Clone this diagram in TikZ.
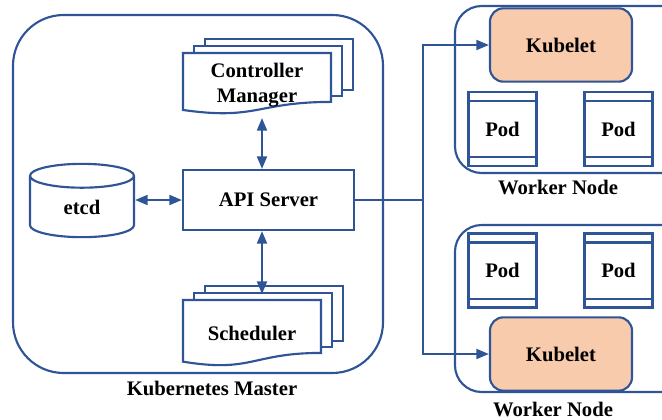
\documentclass[tikz,border=0pt]{standalone}
\usepackage{fontspec}
\setmainfont{Liberation Serif}
\usetikzlibrary{arrows.meta,shapes.geometric}

\definecolor{kblue}{RGB}{47,85,151}
\definecolor{kpeach}{RGB}{248,203,173}

\tikzset{
  blueline/.style={draw=kblue, line width=1.6pt},
  lbl/.style={font=\fontsize{15.5}{18.75}\selectfont\bfseries, inner sep=0.75pt, align=center},
  boxnode/.style={blueline, lbl, fill=white, inner sep=0pt},
  kubelet/.style={boxnode, fill=kpeach, rounded corners=10pt, minimum width=106.5pt, minimum height=55pt},
  pod/.style={boxnode, minimum width=51pt, minimum height=55.5pt},
  store/.style={boxnode, cylinder, shape border rotate=90, aspect=0.65, minimum width=78pt, minimum height=55pt},
  >={Triangle[length=9.5pt,width=7.5pt]},
}

% stack of documents: left, top, right, height of the front sheet
\newcommand{\docpile}[4]{%
  \foreach \d in {2,1}
    \draw[blueline, fill=white] (#1+11*\d, #2-7*\d) rectangle (#3+11*\d, #2+0.802*#4-6*\d);
  \draw[blueline, fill=white] (#1,#2) -- (#3,#2) -- (#3,#2+0.802*#4)
    .. controls ({(#1+#3)/2},#2+0.802*#4) and ({(#1+#3)/2},#2+1.107*#4) .. (#1,#2+0.934*#4) -- cycle;
}

\begin{document}
\begin{tikzpicture}[x=0.75pt,y=0.75pt,yscale=-1,xscale=1]
  \clip (0,0) rectangle (662,419);

  %Shape: master frame
  \draw[blueline, rounded corners=38pt] (13,15) rectangle (383,373);
  %Shape: worker frames
  \draw[blueline, rounded corners=20pt] (455,6) rectangle (700,173);
  \draw[blueline, rounded corners=20pt] (455,225) rectangle (700,392);

  %Shape: document stacks
  \docpile{183}{53}{331}{61}
  \docpile{183}{300}{321}{66}

  % Text Node
  \node[lbl] (cm) at (257,85.5) {Controller\\Manager};
  \node[lbl] (sched) at (252,333) {Scheduler};
  \node[boxnode, minimum width=128.25pt, minimum height=45pt] (api) at (268.5,200) {API Server};
  \node[store] (etcd) at (82,207) {etcd};

  \node[kubelet] (kub1) at (561,45) {Kubelet};
  \node[kubelet] (kub2) at (561,354) {Kubelet};
  \node[pod] (pod1) at (502.5,129) {Pod};
  \node[pod] (pod2) at (618.5,129) {Pod};
  \node[pod] (pod3) at (502.5,270.5) {Pod};
  \node[pod] (pod4) at (618.5,270.5) {Pod};
  \foreach \p in {pod1,pod2,pod3,pod4} {
    \draw[blueline] ([yshift=7.5pt]\p.north west) -- ([yshift=7.5pt]\p.north east);
    \draw[blueline] ([yshift=-7.5pt]\p.south west) -- ([yshift=-7.5pt]\p.south east);
  }

  \node[lbl] (mlabel) at (212,388) {Kubernetes Master};
  \node[lbl] (wlabel1) at (558,187) {Worker Node};
  \node[lbl] (wlabel2) at (553,409) {Worker Node};

  %Straight Lines
  \coordinate (cmfoot) at (262,118);
  \coordinate (schedtop) at (262,294);
  \coordinate (split) at (423,200);
  \draw[blueline, <->] (cmfoot) -- (cmfoot |- api.north);
  \draw[blueline, <->] (cmfoot |- api.south) -- (schedtop);
  \draw[blueline, <->] (etcd.east |- api.west) -- (api.west);
  \draw[blueline] (api.east) -- (split);
  \draw[blueline, ->] (split) |- (kub1.west);
  \draw[blueline, ->] (split) |- (kub2.west);
\end{tikzpicture}
\end{document}
